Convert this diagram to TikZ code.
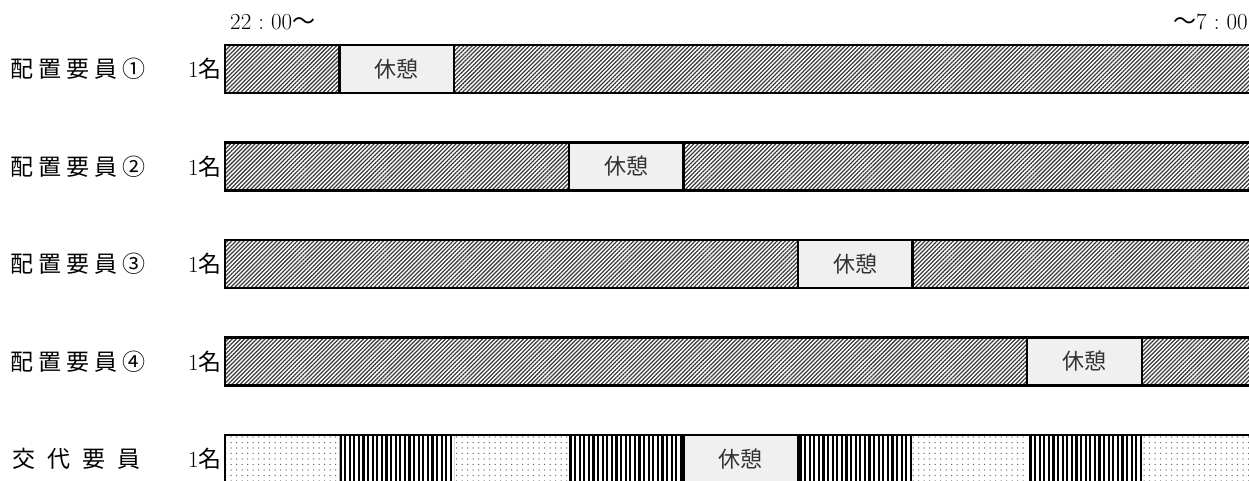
\documentclass[tikz,border=0pt]{standalone}
\usepackage{fontspec}
\newfontfamily\jp{Noto Sans CJK JP}
\usetikzlibrary{patterns.meta}
\definecolor{restgray}{HTML}{F0F0F0}
\definecolor{hatchc}{HTML}{3A3A3A}
\definecolor{textc}{HTML}{333333}
\begin{document}
\begin{tikzpicture}[x=1pt,y=-1pt,
  hatchseg/.style={pattern={Lines[angle=45,distance=2.9pt,line width=1.25pt]},pattern color=hatchc},
  dotseg/.style={pattern={Dots[distance=5.5pt,radius=0.75pt]},pattern color=black!55},
  stripeseg/.style={pattern={Lines[angle=90,distance=4.6pt,line width=2.2pt]},pattern color=black},
  restbox/.style={draw=black,line width=2.4pt,fill=restgray},
  barframe/.style={draw=black,line width=2.6pt},
  rowlbl/.style={font=\jp\fontsize{23}{26}\selectfont,anchor=west,inner sep=0pt},
  cntlbl/.style={font=\fontsize{23}{26}\selectfont,anchor=east,inner sep=0pt},
  resttxt/.style={font=\jp\fontsize{22}{26}\selectfont,text=textc,inner sep=0pt},
  timelbl/.style={font=\fontsize{23}{26}\selectfont,inner sep=0pt}]
\useasboundingbox (0,0) rectangle (1249,481);
\clip (0,0) rectangle (1249,481);
\def\xo{225}\def\sw{114.6}\def\bh{48}
% time labels
\node[timelbl,anchor=west] (tstart) at (230,22) {22\kern7pt:\kern7pt00{\jp ～}};
\node[timelbl,anchor=west] (tend) at (1173,22) {{\jp ～}7\kern7pt:\kern7pt00};
% rows 1-4
\foreach \i/\t in {0/45,1/142.5,2/240,3/337.5}{
  \pgfmathsetmacro\k{2*\i+1}
  \fill[hatchseg] (\xo,\t) rectangle (1258,\t+\bh);
  \path[restbox] (\xo+\k*\sw,\t) rectangle (\xo+\k*\sw+\sw,\t+\bh);
  \node[resttxt] (rest\i) at (\xo+\k*\sw+0.5*\sw,\t+0.5*\bh) {休憩};
  \draw[barframe] (\xo,\t) rectangle (1258,\t+\bh);
  \node[cntlbl] (cnt\i) at (222,\t+0.5*\bh) {1{\jp 名}};
}
\node[rowlbl] (lab0) at (10,69) {配\kern5pt置\kern5pt要\kern5pt員\kern5pt①};
\node[rowlbl] (lab1) at (10,166.5) {配\kern5pt置\kern5pt要\kern5pt員\kern5pt②};
\node[rowlbl] (lab2) at (10,264) {配\kern5pt置\kern5pt要\kern5pt員\kern5pt③};
\node[rowlbl] (lab3) at (10,361.5) {配\kern5pt置\kern5pt要\kern5pt員\kern5pt④};
% row 5
\def\t{435}
\foreach \k/\s in {0/dotseg,1/stripeseg,2/dotseg,3/stripeseg,5/stripeseg,6/dotseg,7/stripeseg,8/dotseg}{
  \fill[\s] (\xo+\k*\sw,\t) rectangle (\xo+\k*\sw+\sw,\t+\bh);
}
\path[restbox] (\xo+4*\sw,\t) rectangle (\xo+5*\sw,\t+\bh);
\node[resttxt] (rest4) at (\xo+4.5*\sw,\t+0.5*\bh) {休憩};
\draw[barframe] (\xo,\t) rectangle (1258,\t+\bh);
\node[cntlbl] (cnt4) at (222,459) {1{\jp 名}};
\node[rowlbl] (lab4) at (12,459) {交\kern12pt代\kern12pt要\kern12pt員};
\end{tikzpicture}
\end{document}
